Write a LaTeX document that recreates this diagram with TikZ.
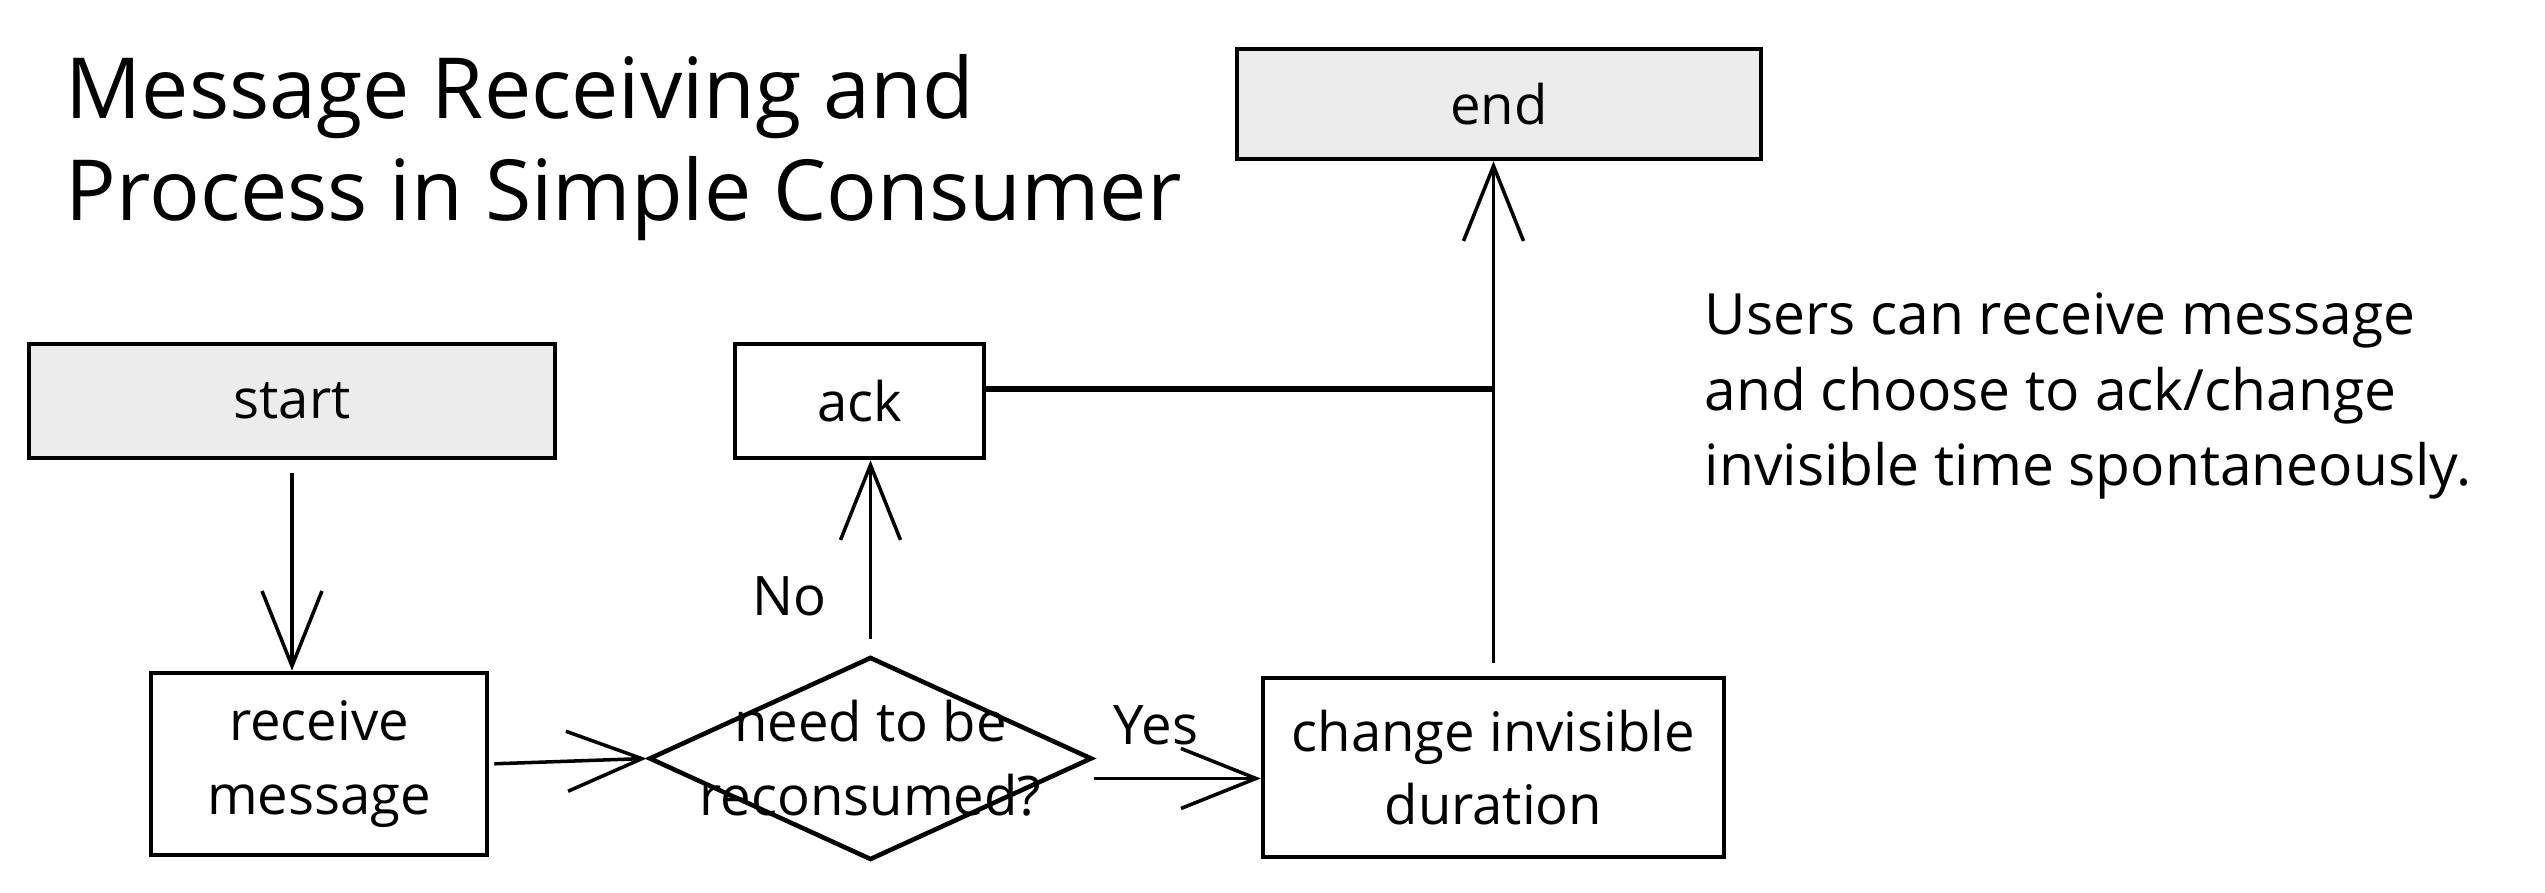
\documentclass[tikz,border=0pt]{standalone}
\usepackage{fontspec}
\setmainfont{Open Sans}
\usetikzlibrary{positioning, arrows.meta, shapes.geometric}
\definecolor{boxgray}{RGB}{236,236,236}
\tikzset{
    termstyle/.style={rectangle, draw=black, fill=boxgray, line width=1.3pt, align=center, font=\fontsize{15.5}{21}\selectfont},
    procstyle/.style={rectangle, draw=black, fill=white, line width=1.3pt, align=center, font=\fontsize{15.5}{21}\selectfont},
    decstyle/.style={diamond, draw=black, fill=white, line width=1.3pt, inner sep=0pt},
    arr/.style={-{Straight Barb[length=7.5mm, width=6mm]}, line width=1pt},
    joinline/.style={line width=1.5pt}
}

\begin{document}
\begin{tikzpicture}[
      lbl/.style={font=\fontsize{15.5}{21}\selectfont, inner sep=2pt},
      ttl/.style={font=\fontsize{24}{29}\selectfont, align=left, inner sep=0pt},
      note/.style={font=\fontsize{16.2}{21.5}\selectfont, align=left, inner sep=0pt}
    ]
    \useasboundingbox (0,0) rectangle (25.45,8.93);
    \node[ttl, anchor=west] (title) at (0.65,7.45) {Message Receiving and\\Process in Simple Consumer};
    \node[termstyle, minimum width=5.26cm, minimum height=1.14cm] (start) at (2.92,4.92) {start};
    \node[procstyle, minimum width=2.49cm, minimum height=1.14cm] (ack) at (8.595,4.92) {ack};
    \node[procstyle, minimum width=3.36cm, minimum height=1.82cm] (recv) at (3.19,1.29) {receive\\message};
    \node[decstyle, minimum width=4.43cm, minimum height=2.03cm] (dec) at (8.705,1.345) {};
    \node[lbl, align=center] (dectxt) at (dec) {need to be\\reconsumed?};
    \node[procstyle, minimum width=4.61cm, minimum height=1.79cm] (chg) at (14.935,1.255) {change invisible\\duration};
    \node[termstyle, minimum width=5.24cm, minimum height=1.10cm] (end) at (14.99,7.89) {end};
    \node[note, anchor=west] (note) at (17.04,4.97) {Users can receive message\\and choose to ack/change\\invisible time spontaneously.};
    \draw[arr, shorten <=0.13cm] (start.south) -- (start.south |- recv.north);
    \draw[arr, shorten <=0.05cm] (recv.east) -- (dec.west);
    \draw[arr] ([yshift=-0.2cm]dec.east) -- ([yshift=-0.2cm]dec.east -| chg.west) node[lbl, pos=0.37, above=0.25cm] {Yes};
    \draw[arr, shorten <=0.16cm] (dec.north) -- (dec.north |- ack.south) node[lbl, pos=0.3, left=0.35cm] {No};
    \draw[arr, shorten <=0.13cm] (chg.north) -- (chg.north |- end.south);
    \draw[joinline] ([yshift=0.12cm]ack.east) -- ([yshift=0.12cm]ack.east -| chg.north);
\end{tikzpicture}
\end{document}
